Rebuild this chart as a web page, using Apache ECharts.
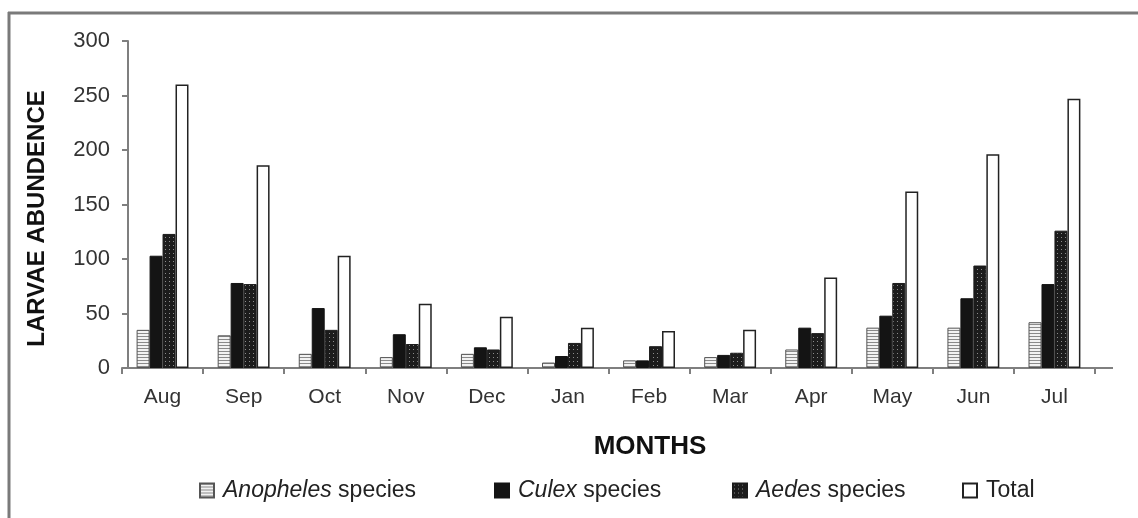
<!DOCTYPE html>
<html>
<head>
<meta charset="utf-8">
<script src="https://cdn.jsdelivr.net/npm/echarts@6/dist/echarts.min.js"></script>
<style>
  html, body { margin: 0; padding: 0; background: #fff; }
  #larvae-chart { width: 1138px; height: 518px; }
</style>
</head>
<body>
<div id="larvae-chart"></div>
<script>
var MONTHS = ["Aug", "Sep", "Oct", "Nov", "Dec", "Jan", "Feb", "Mar", "Apr", "May", "Jun", "Jul"];
var ANOPHELES = [35, 30, 13, 10, 13, 5, 7, 10, 17, 37, 37, 42];
var CULEX = [103, 78, 55, 31, 19, 11, 7, 12, 37, 48, 64, 77];
var AEDES = [123, 77, 35, 22, 17, 23, 20, 14, 32, 78, 94, 126];
var TOTAL = [260, 186, 103, 59, 47, 37, 34, 35, 83, 162, 196, 247];
var Y_TICKS = [0, 50, 100, 150, 200, 250, 300];
var SERIES_NAMES = ["Anopheles species", "Culex species", "Aedes species", "Total"];

var FONT = "'Liberation Sans', Arial, sans-serif";

// small canvas tiles used as fill patterns
function makeStripes() {
    var c = document.createElement("canvas");
    c.width = 6; c.height = 3;
    var ctx = c.getContext("2d");
    ctx.fillStyle = "#f2f2f2";
    ctx.fillRect(0, 0, 6, 3);
    ctx.fillStyle = "#8a8a8a";
    ctx.fillRect(0, 0, 6, 1);
    return c;
}

function makeDots() {
    var c = document.createElement("canvas");
    c.width = 4; c.height = 4;
    var ctx = c.getContext("2d");
    ctx.fillStyle = "#1c1c1c";
    ctx.fillRect(0, 0, 4, 4);
    ctx.fillStyle = "#8c8c8c";
    ctx.fillRect(1, 1, 1, 1);
    return c;
}

function legendName(name) {
    if (name === "Total") return name;
    var parts = name.split(" ");
    return "{it|" + parts[0] + "} " + parts.slice(1).join(" ");
}

// one legend per entry so the spacing can follow the original
var legendLefts = [194, 489, 727, 957];
var legends = SERIES_NAMES.map(function (name, i) {
    return {
        left: legendLefts[i],
        top: 474,
        icon: "rect",
        itemWidth: 14,
        itemHeight: 14,
        formatter: legendName,
        textStyle: {
            fontFamily: FONT,
            fontSize: 23,
            color: "#222",
            padding: [0, 0, 0, 4],
            rich: {
                it: { fontFamily: FONT, fontSize: 23, fontStyle: "italic", color: "#222" }
            }
        },
        data: [name]
    };
});

var chart = echarts.init(document.getElementById("larvae-chart"));

var option = {
    backgroundColor: "#fff",
    animation: false,
    grid: { left: 122, right: 43, top: 41, bottom: 150, containLabel: false },
    graphic: [
        { type: "line", shape: { x1: 8, y1: 13, x2: 1138, y2: 13 }, style: { stroke: "#7a7a7a", lineWidth: 3 } },
        { type: "line", shape: { x1: 9, y1: 12, x2: 9, y2: 518 }, style: { stroke: "#7a7a7a", lineWidth: 3 } },
        { type: "line", shape: { x1: 1094, y1: 368, x2: 1113, y2: 368 }, style: { stroke: "#7f7f7f", lineWidth: 2 } }
    ],
    legend: legends,
    xAxis: {
        type: "category",
        data: MONTHS,
        name: "MONTHS",
        nameLocation: "middle",
        nameGap: 66,
        nameTextStyle: {
            fontFamily: FONT, fontSize: 26, fontWeight: "bold", color: "#111",
            padding: [0, 0, 0, 83]
        },
        axisLine: { lineStyle: { color: "#7f7f7f", width: 2 } },
        axisTick: { show: true, length: 6, lineStyle: { color: "#7f7f7f", width: 2 } },
        axisLabel: { fontFamily: FONT, fontSize: 21, color: "#333", margin: 19 }
    },
    yAxis: {
        type: "value",
        min: 0,
        max: 300,
        interval: 50,
        offset: -6,
        name: "LARVAE ABUNDENCE",
        nameLocation: "middle",
        nameGap: 79,
        nameTextStyle: {
            fontFamily: FONT, fontSize: 24, fontWeight: "bold", color: "#111",
            padding: [0, 28, 0, 0]
        },
        axisLine: { show: true, lineStyle: { color: "#7f7f7f", width: 2 } },
        axisTick: { show: true, length: 6, lineStyle: { color: "#7f7f7f", width: 2 } },
        splitLine: { show: false },
        axisLabel: {
            fontFamily: FONT, fontSize: 22, color: "#333", margin: 18,
            formatter: function (v) { return Y_TICKS.indexOf(v) >= 0 ? String(v) : ""; }
        }
    },
    series: [
        {
            name: SERIES_NAMES[0], type: "bar", data: ANOPHELES,
            barGap: "0%", barCategoryGap: "36%",
            itemStyle: { color: { image: makeStripes(), repeat: "repeat" }, borderColor: "#555", borderWidth: 1 }
        },
        {
            name: SERIES_NAMES[1], type: "bar", data: CULEX,
            itemStyle: { color: "#141414", borderColor: "#141414", borderWidth: 1 }
        },
        {
            name: SERIES_NAMES[2], type: "bar", data: AEDES,
            itemStyle: { color: { image: makeDots(), repeat: "repeat" }, borderColor: "#1c1c1c", borderWidth: 1 }
        },
        {
            name: SERIES_NAMES[3], type: "bar", data: TOTAL,
            itemStyle: { color: "#ffffff", borderColor: "#222", borderWidth: 1.5 }
        }
    ]
};

chart.setOption(option);
</script>
</body>
</html>
